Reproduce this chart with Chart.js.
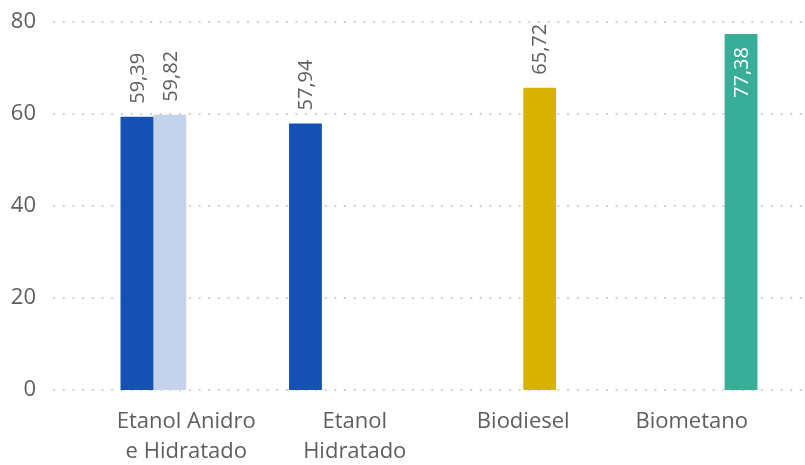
<!DOCTYPE html>
<html lang="pt-BR">
<head>
<meta charset="utf-8">
<title>Biocombustíveis</title>
<script src="https://cdn.jsdelivr.net/npm/chart.js@4.4.1/dist/chart.umd.min.js"></script>
<style>
  html, body { margin: 0; padding: 0; background: #ffffff; }
  #wrap { width: 805px; height: 465px; }
</style>
</head>
<body>
<div id="wrap"><canvas id="bioChart" width="805" height="465"></canvas></div>
<script>
// Categories and one series per fuel (null where the fuel has no bar)
const categories = [["Etanol Anidro", "e Hidratado"], ["Etanol", "Hidratado"], "Biodiesel", "Biometano"];
const etanolValues = [59.39, 57.94, null, null];
const hidratadoValues = [59.82, null, null, null];
const biodieselValues = [null, null, 65.72, null];
const biometanoValues = [null, null, null, 77.38];
const yTicks = [0, 20, 40, 60, 80];

const FONT = "'Open Sans', 'Noto Sans', sans-serif";
const TEXT_COLOR = "#605e5c";

// Dotted horizontal grid, running the full width of the canvas
const dottedGrid = {
  id: "dottedGrid",
  beforeDatasetsDraw(chart) {
    const ctx = chart.ctx;
    const y = chart.scales.y;
    ctx.save();
    ctx.strokeStyle = "#cfcfcf";
    ctx.lineWidth = 2;
    ctx.setLineDash([2, 7.7]);
    yTicks.forEach(t => {
      const py = Math.round(y.getPixelForValue(t));
      ctx.beginPath();
      ctx.moveTo(53, py);
      ctx.lineTo(chart.width, py);
      ctx.stroke();
    });
    ctx.restore();
  }
};

// Rotated value labels, outside the bar unless there is no room above
const valueLabels = {
  id: "valueLabels",
  afterDatasetsDraw(chart) {
    const ctx = chart.ctx;
    const top = chart.chartArea.top;
    ctx.save();
    ctx.font = "20px " + FONT;
    ctx.textBaseline = "middle";
    chart.data.datasets.forEach((ds, di) => {
      const meta = chart.getDatasetMeta(di);
      meta.data.forEach((bar, i) => {
        const v = ds.data[i];
        if (v === null || v === undefined) return;
        const text = v.toFixed(2).replace(".", ",");
        const w = ctx.measureText(text).width;
        ctx.save();
        ctx.translate(bar.x + 1, bar.y);
        ctx.rotate(-Math.PI / 2);
        if (bar.y - 13 - w < top - 20) {
          ctx.fillStyle = "#ffffff";
          ctx.textAlign = "right";
          ctx.fillText(text, -13, 0);
        } else {
          ctx.fillStyle = TEXT_COLOR;
          ctx.textAlign = "left";
          ctx.fillText(text, 13, 0);
        }
        ctx.restore();
      });
    });
    ctx.restore();
  }
};

function makeDataset(label, values, color) {
  return {
    label: label,
    data: values,
    backgroundColor: color,
    categoryPercentage: 0.78,
    barPercentage: 1.0,
    skipNull: false
  };
}

function createChart() {
  const canvas = document.getElementById("bioChart");
  new Chart(canvas, {
    type: "bar",
    data: {
      labels: categories,
      datasets: [
        makeDataset("Etanol", etanolValues, "#1550b3"),
        makeDataset("Etanol Hidratado", hidratadoValues, "#c4d3eb"),
        makeDataset("Biodiesel", biodieselValues, "#d8b300"),
        makeDataset("Biometano", biometanoValues, "#38ae98")
      ]
    },
    options: {
      responsive: false,
      animation: false,
      layout: { padding: { top: 22, right: 29, left: 0, bottom: 0 } },
      plugins: {
        legend: { display: false },
        tooltip: { enabled: false }
      },
      scales: {
        x: {
          grid: { display: false, drawTicks: false },
          border: { display: false },
          ticks: {
            color: TEXT_COLOR,
            font: { family: FONT, size: 22, lineHeight: 1.36 },
            padding: 17,
            maxRotation: 0,
            autoSkip: false
          },
          afterFit(scale) { scale.height = 75; }
        },
        y: {
          min: 0,
          max: 80,
          grid: { display: false, drawTicks: false },
          border: { display: false },
          afterBuildTicks(scale) {
            scale.ticks = yTicks.map(v => ({ value: v }));
          },
          ticks: {
            color: TEXT_COLOR,
            font: { family: FONT, size: 22 },
            padding: 66
          },
          afterFit(scale) {
            // labels sit far left; keep the large padding out of the vertical layout
            scale.width = 102;
            scale.paddingTop = 0;
            scale.paddingBottom = 0;
          }
        }
      }
    },
    plugins: [dottedGrid, valueLabels]
  });
}

createChart();
</script>
</body>
</html>
